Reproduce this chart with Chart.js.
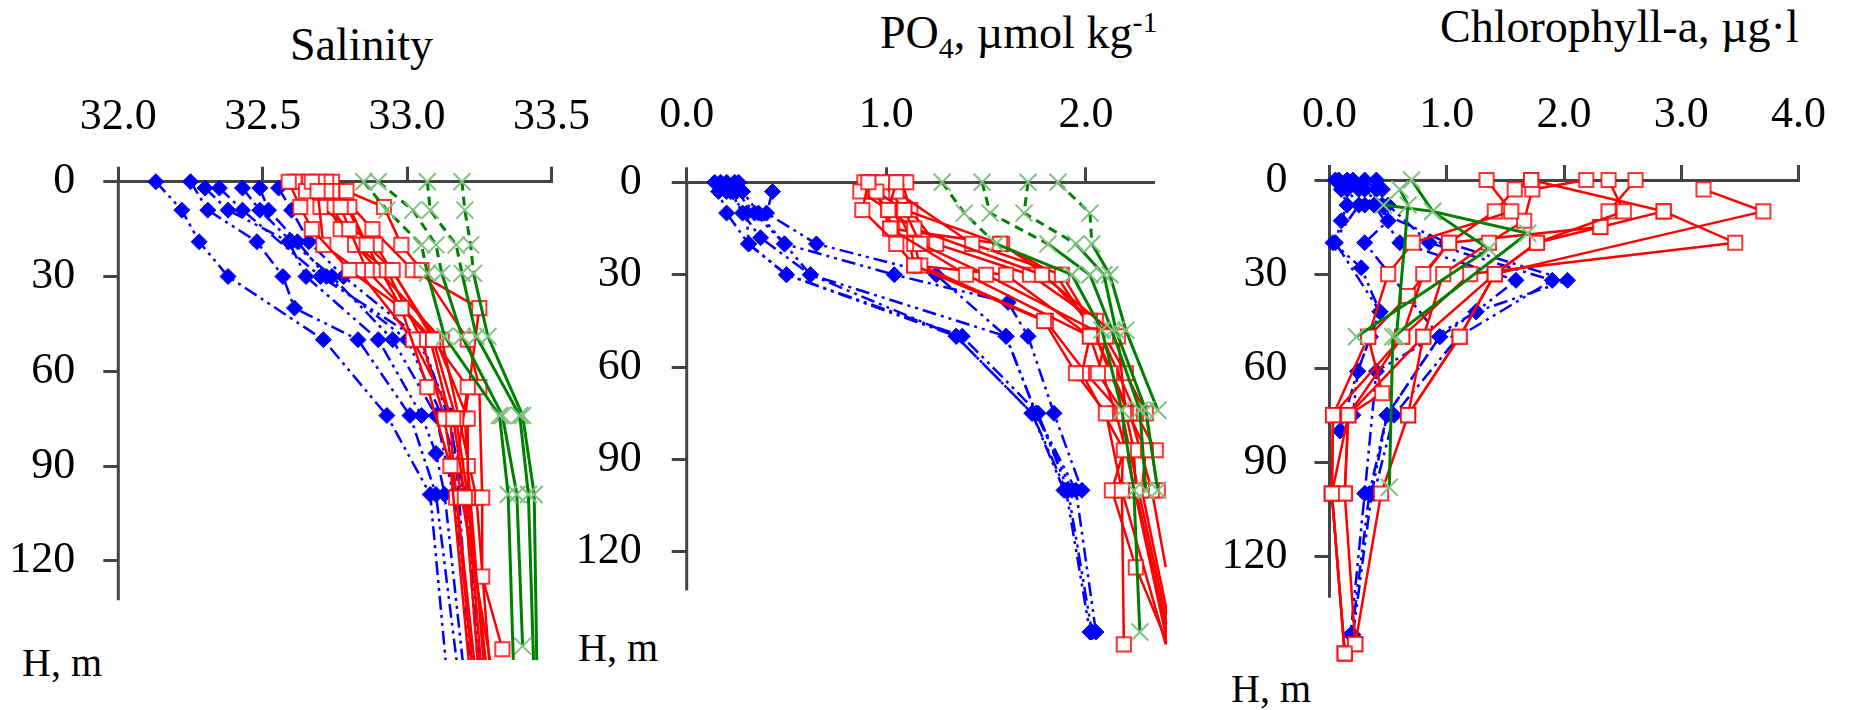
<!DOCTYPE html>
<html>
<head>
<meta charset="utf-8">
<script src="https://cdn.jsdelivr.net/npm/chart.js@4.4.0/dist/chart.umd.min.js"></script>
<style>
  html, body { margin: 0; padding: 0; background: #fff; }
  body { width: 1849px; height: 710px; position: relative; overflow: hidden; font-family: "Liberation Serif", "DejaVu Serif", serif; color: #000; }
  canvas { position: absolute; top: 0; }
  #sal { clip-path: inset(0 0 50px 0); }
  .lbl { position: absolute; white-space: nowrap; line-height: 1; }
  .title { font-size: 46px; }
  .hm { font-size: 40px; }
  sub, sup { font-size: 30px; line-height: 0; }
</style>
</head>
<body>
<div class="lbl title" style="left:290px; top:22px;">Salinity</div>
<div class="lbl title" style="left:880px; top:10px;">PO<sub>4</sub>, µmol kg<sup>-1</sup></div>
<div class="lbl title" style="left:1440px; top:4px;">Chlorophyll-a, µg·l</div>
<div class="lbl hm" style="left:22px; top:643px;">H, m</div>
<div class="lbl hm" style="left:578px; top:628px;">H, m</div>
<div class="lbl hm" style="left:1231px; top:669px;">H, m</div>

<canvas id="sal" width="613" height="710" style="left:0px"></canvas>
<canvas id="po4" width="597" height="710" style="left:570px"></canvas>
<canvas id="chl" width="679" height="710" style="left:1170px"></canvas>

<script>
// tick labels
const depthTicks = [0, 30, 60, 90, 120];
const salTicks = [32.0, 32.5, 33.0, 33.5];
const po4Ticks = [0, 1, 2];
const chlTicks = [0, 1, 2, 3, 4];

// ---- salinity profiles (the panel is cropped at about 150 m) ----
const salBlueDepth = [0, 2, 9, 19, 30, 40, 50, 74, 86, 99, 158];
const salBlue = [
  [32.13, null, 32.22, 32.28, 32.38, null, 32.71, 32.93, null, 33.08, 33.14],
  [32.25, null, 32.31, 32.48, 32.57, 32.61, 32.83, 33.01, null, 33.10, 33.18],
  [null, 32.30, 32.38, 32.59, 32.65, null, 32.90, 33.05, 33.10, 33.13, 33.20],
  [null, 32.35, 32.43, null, 32.70, null, 33.04, 33.15, null, 33.18, 33.22],
  [null, 32.43, 32.49, 32.60, 32.74, null, 32.95, 33.10, null, 33.16, 33.24],
  [null, 32.49, 32.52, 32.62, 32.72, null, 33.00, 33.12, null, 33.20, 33.26],
  [null, 32.555, 32.60, 32.66, 32.78, null, 33.05, 33.14, null, 33.20, 33.25]
];
const salRedDepth = [0, 3, 8, 15, 20, 28, 40, 50, 65, 75, 90, 100, 125, 148, 158];
const salRed = [
  [32.59, null, 32.63, 32.67, null, 32.80, 32.98, null, 33.07, null, 33.15, null, null, null, 33.22],
  [32.67, 32.69, null, null, 32.71, 32.83, null, 33.02, null, 33.16, null, 33.20, null, null, 33.25],
  [null, 32.72, 32.77, 32.80, null, 32.86, null, 33.09, null, 33.17, null, 33.21, null, null, 33.28],
  [32.69, 32.74, 32.80, null, 32.86, 32.95, null, 33.09, 33.21, null, 33.17, null, null, null, 33.30],
  [null, 32.79, 32.92, null, 32.98, 33.05, null, 33.21, 33.25, null, null, 33.26, 33.26, 33.33, null],
  [32.61, 32.65, 32.70, null, 32.89, null, null, 33.10, null, 33.21, null, 33.21, null, null, 33.26],
  [32.72, 32.76, null, 32.88, null, 33.02, 33.25, null, null, 33.20, 33.21, null, null, null, 33.27],
  [32.66, null, 32.74, null, 32.82, 32.93, null, 33.05, null, 33.13, null, 33.17, null, null, 33.23],
  [32.62, 32.70, null, 32.77, null, 32.90, null, 33.12, null, 33.18, null, 33.24, null, null, 33.29],
  [32.74, null, 32.79, null, 32.86, null, 32.98, 33.08, null, 33.15, 33.16, null, null, null, 33.24]
];
const salGreenDepth = [0, 9, 20, 29, 49, 74, 99, 147, 158];
const salGreen = [
  [32.85, 32.93, 33.05, 33.07, 33.13, 33.32, 33.35, null, 33.37],
  [32.90, 33.02, 33.10, 33.12, 33.19, 33.33, 33.38, 33.40, null],
  [33.07, 33.08, 33.17, 33.19, 33.24, 33.39, 33.42, null, 33.44],
  [33.19, 33.20, 33.22, 33.23, 33.28, 33.40, 33.44, null, 33.45]
];

// ---- PO4 profiles (the panel is cropped at about 2.34) ----
const po4BlueDepth = [0, 3, 10, 18, 20, 30, 39, 50, 75, 100, 146];
const po4Blue = [
  [0.14, 0.16, 0.20, null, 0.31, 0.50, null, 1.35, 1.73, 1.90, 2.02],
  [0.20, 0.22, 0.28, 0.37, null, 0.62, null, 1.60, 1.75, 1.93, null],
  [0.26, 0.25, 0.34, null, 0.49, 1.04, 1.61, 1.71, 1.84, 1.98, null],
  [null, 0.43, 0.40, null, 0.65, 1.25, null, 1.60, 1.75, 1.95, 2.05],
  [0.17, 0.20, 0.30, null, 0.31, 0.50, null, 1.38, 1.76, 1.91, 2.03],
  [0.24, 0.28, 0.36, null, 0.49, 0.62, null, 1.35, 1.73, 1.89, null]
];
const po4RedDepth = [0, 3, 9, 15, 20, 27, 30, 45, 50, 62, 75, 87, 100, 125, 150];
const po4Red = [
  [0.91, null, 0.88, null, 1.05, 1.14, null, 1.79, null, 1.95, 2.10, null, 2.18, null, 2.19],
  [null, 0.87, 1.01, 1.02, null, null, 1.40, null, 2.02, 1.98, null, 2.19, 2.13, 2.25, 2.41],
  [null, 0.95, 1.09, null, 1.17, null, 1.50, null, 2.10, 2.06, 2.19, null, 2.18, null, 2.40],
  [1.05, null, 1.01, 1.14, null, null, 1.78, null, 2.16, null, 2.20, 2.24, 2.25, null, 2.42],
  [1.10, 1.05, null, null, 1.43, null, 1.88, 2.02, null, 2.12, null, 2.30, 2.28, null, 2.44],
  [0.98, null, 1.09, null, 1.57, null, 1.85, null, 2.05, null, 2.22, null, 2.33, 2.40, null],
  [0.93, 0.95, null, 1.02, 1.58, null, 1.80, null, 2.08, null, 2.25, 2.35, null, 2.42, null],
  [1.02, 1.00, 1.05, null, 1.14, 1.17, null, 1.80, null, 2.00, 2.18, null, null, null, 2.43],
  [0.89, 0.93, null, 1.10, null, 1.14, 1.60, null, 2.02, null, 2.15, 2.20, null, null, 2.41],
  [1.08, null, 1.12, null, 1.25, null, 1.72, 2.05, null, 2.20, 2.30, null, 2.36, null, null]
];
const po4GreenDepth = [0, 10, 20, 30, 48, 74, 100, 146];
const po4Green = [
  [1.28, 1.39, 1.55, 1.93, 2.08, 2.18, 2.24, 2.27],
  [1.48, 1.52, 1.81, 2.02, 2.13, 2.27, 2.30, null],
  [1.71, 1.69, 1.95, 2.09, 2.15, 2.30, 2.36, null],
  [1.86, 2.02, 2.03, 2.12, 2.20, 2.36, null, null]
];

// ---- chlorophyll profiles ----
const chlBlueDepth = [0, 3, 8, 13, 20, 28, 32, 42, 50, 61, 75, 80, 100, 145];
const chlBlue = [
  [0.08, 0.15, 0.25, null, 0.03, 0.27, null, 0.43, null, 0.24, null, 0.09, null, null],
  [0.20, 0.30, 0.45, 0.50, 0.30, null, null, null, 0.94, null, 0.49, null, 0.34, 0.19],
  [0.30, 0.40, 0.38, null, 0.60, null, 1.59, 1.25, 0.94, null, 0.49, null, 0.36, 0.20],
  [0.15, 0.25, 0.50, null, 0.85, null, 1.90, null, 1.10, null, 0.55, null, 0.38, null],
  [0.40, 0.45, 0.30, null, 1.00, null, 2.03, 1.25, null, 0.40, null, null, 0.30, 0.18],
  [0.05, 0.10, 0.15, 0.10, 0.05, null, null, 0.43, 0.35, 0.24, 0.20, 0.09, null, null]
];
const chlRedDepth = [0, 3, 10, 13, 15, 20, 30, 37, 50, 68, 75, 100, 148, 151];
const chlRed = [
  [1.34, null, 1.55, null, null, 0.71, 0.50, null, 0.33, null, 0.03, 0.02, null, 0.13],
  [1.72, 1.58, 1.41, null, null, 1.02, 0.80, null, 0.62, null, 0.16, 0.13, 0.22, null],
  [2.19, 1.73, null, 1.66, null, 1.36, 0.97, null, 0.80, null, 0.67, 0.44, 0.22, null],
  [2.38, null, 2.51, null, null, 1.77, 1.41, null, 1.11, null, 0.67, null, null, null],
  [2.61, null, 2.38, null, 2.31, 1.02, null, 0.67, 0.33, 0.45, 0.16, 0.02, null, 0.13],
  [null, 3.19, 3.70, null, null, null, 1.41, null, 0.80, null, 0.16, 0.13, null, null],
  [null, null, 2.85, null, null, 3.46, 1.20, null, 0.62, null, 0.03, 0.02, null, 0.13],
  [1.72, null, 2.85, null, 2.31, 1.77, 1.41, null, 1.11, null, 0.67, null, null, null]
];
const chlGreenDepth = [0, 3, 8, 10, 17, 22, 50, 98];
const chlGreen = [
  [0.70, null, null, 0.88, 1.69, null, 0.54, 0.51],
  [null, 0.60, 0.67, null, null, null, 0.57, null],
  [null, null, 0.46, 0.88, null, 1.36, 0.23, null]
];

function toPoints(depths, values) {
  const pts = [];
  values.forEach((v, i) => { if (v !== null) pts.push({ x: v, y: depths[i] }); });
  return pts;
}

const blueStyle = {
  borderColor: '#0000ff', borderWidth: 2.5, borderDash: [14, 5, 3, 5, 3, 5],
  pointStyle: 'rectRot', pointRadius: 8, pointBackgroundColor: '#0000ff', pointBorderColor: '#0000ff', pointBorderWidth: 1
};
const redStyle = {
  borderColor: '#ff0000', borderWidth: 2.5,
  pointStyle: 'rect', pointRadius: 10, pointBackgroundColor: '#ffffff', pointBorderColor: 'rgba(255,0,0,0.8)', pointBorderWidth: 2
};
const greenStyle = {
  borderColor: '#008000', borderWidth: 3,
  pointStyle: 'crossRot', pointRadius: 12, pointBorderColor: '#80c080', pointBorderWidth: 2
};

function buildSets(groups, dashDepth) {
  const sets = [];
  // green first so it is drawn on top, blue last (underneath)
  [['g', groups.green], ['r', groups.red], ['b', groups.blue]].forEach(([k, g]) => {
    g.rows.forEach(row => {
      const style = k === 'g' ? greenStyle : k === 'r' ? redStyle : blueStyle;
      const ds = Object.assign({ data: toPoints(g.depth, row), showLine: true, tension: 0, clip: false }, style);
      if (k === 'g' && dashDepth) {
        ds.segment = { borderDash: ctx => ctx.p1.parsed.y <= dashDepth ? [9, 6] : undefined };
      }
      sets.push(ds);
    });
  });
  return sets;
}

// the depth axis line stops short of the deepest samples
const shortAxis = {
  id: 'shortAxis',
  beforeDatasetsDraw(chart, args, opts) {
    const y = chart.scales.y, ctx = chart.ctx;
    ctx.save();
    ctx.strokeStyle = '#444';
    ctx.lineWidth = 3;
    ctx.beginPath();
    ctx.moveTo(chart.chartArea.left, y.getPixelForValue(0) - 1.5);
    ctx.lineTo(chart.chartArea.left, y.getPixelForValue(opts.end));
    ctx.stroke();
    ctx.restore();
  }
};

const tickFont = { family: 'Liberation Serif', size: 44 };
const axisGrid = { drawOnChartArea: false, drawTicks: true, tickLength: 15, color: '#444', lineWidth: 3 };

function makePanel(id, sets, p) {
  new Chart(document.getElementById(id), {
    type: 'scatter',
    data: { datasets: sets },
    plugins: [shortAxis],
    options: {
      responsive: false,
      animation: false,
      devicePixelRatio: 1,
      layout: { padding: { left: 0, top: 0, right: p.padRight, bottom: p.padBottom } },
      plugins: { legend: { display: false }, tooltip: { enabled: false }, shortAxis: { end: p.axisEnd } },
      scales: {
        x: {
          type: 'linear', position: 'top', min: p.xMin, max: p.xMax,
          afterBuildTicks: s => { s.ticks = p.xTicks.map(v => ({ value: v })); },
          afterFit: s => { s.height = p.top; },
          ticks: { font: tickFont, color: '#000', padding: p.xPad, maxRotation: 0, autoSkip: false,
                   callback: v => Number(v).toFixed(1) },
          grid: axisGrid, border: { display: true, color: '#444', width: 3 }
        },
        y: {
          type: 'linear', reverse: true, min: 0, max: p.yMax,
          afterBuildTicks: s => { s.ticks = depthTicks.map(v => ({ value: v })); },
          afterFit: s => { s.width = p.left; },
          ticks: { font: tickFont, color: '#000', padding: p.yPad, autoSkip: false,
                   callback: v => String(v) },
          grid: axisGrid, border: { display: false }
        }
      }
    }
  });
}

makePanel('sal', buildSets({
  blue: { depth: salBlueDepth, rows: salBlue },
  red: { depth: salRedDepth, rows: salRed },
  green: { depth: salGreenDepth, rows: salGreen }
}, 30), { xMin: 32.0, xMax: 33.5, xTicks: salTicks, yMax: 150, axisEnd: 132.5, left: 118.3, top: 181.7,
          padRight: 50, padBottom: 49.8, xPad: 23, yPad: 28 });

makePanel('po4', buildSets({
  blue: { depth: po4BlueDepth, rows: po4Blue },
  red: { depth: po4RedDepth, rows: po4Red },
  green: { depth: po4GreenDepth, rows: po4Green }
}, 20), { xMin: 0, xMax: 2.336, xTicks: po4Ticks, yMax: 152, axisEnd: 132.5, left: 116.7, top: 182.3,
          padRight: 0, padBottom: 59.5, xPad: 25, yPad: 30 });

makePanel('chl', buildSets({
  blue: { depth: chlBlueDepth, rows: chlBlue },
  red: { depth: chlRedDepth, rows: chlRed },
  green: { depth: chlGreenDepth, rows: chlGreen }
}, 0), { xMin: 0, xMax: 4, xTicks: chlTicks, yMax: 152, axisEnd: 133.2, left: 159.5, top: 180,
          padRight: 49, padBottom: 19.3, xPad: 23, yPad: 27 });
</script>
</body>
</html>
